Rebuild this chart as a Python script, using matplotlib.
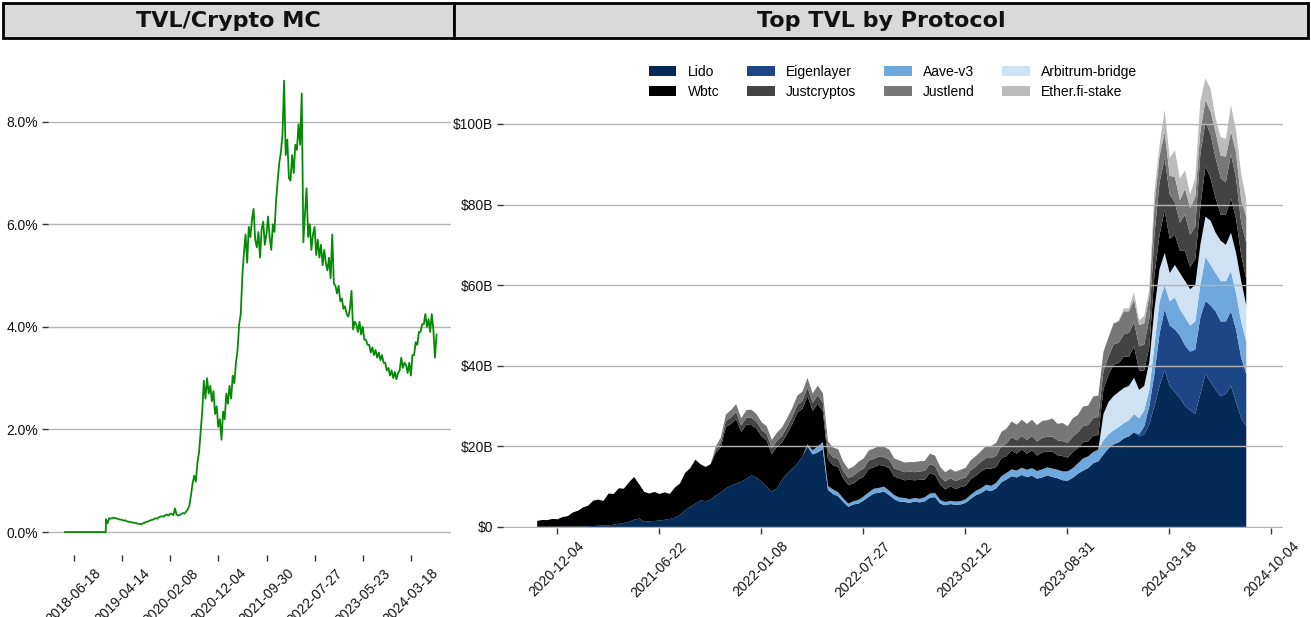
import matplotlib
matplotlib.use("Agg")
import matplotlib.pyplot as plt
from matplotlib.patches import Rectangle
from matplotlib.ticker import FuncFormatter, FixedLocator
import numpy as np
import pandas as pd

plt.rcParams['font.family'] = ['Liberation Sans', 'DejaVu Sans']

# ---------------- Left panel data: TVL / Crypto market cap (%) ----------------
tvl_flat_dates = ['2018-04-23', '2019-01-02']
tvl_flat_vals = [0.0, 0.0]
tvl_start = '2019-01-03'   # then one value every 10 days
tvl_ratio = [
    0.25, 0.17, 0.27, 0.26, 0.27, 0.28, 0.27, 0.26, 0.25, 0.24,
    0.24, 0.22, 0.23, 0.21, 0.20, 0.20, 0.19, 0.18, 0.18, 0.17,
    0.16, 0.16, 0.15, 0.17, 0.18, 0.20, 0.20, 0.22, 0.23, 0.24,
    0.25, 0.27, 0.26, 0.29, 0.30, 0.31, 0.30, 0.33, 0.34, 0.32,
    0.36, 0.35, 0.33, 0.46, 0.34, 0.32, 0.33, 0.35, 0.37, 0.36,
    0.40, 0.44, 0.52, 0.72, 0.95, 1.10, 0.98, 1.35, 1.55, 1.95,
    2.35, 2.95, 2.60, 3.00, 2.70, 2.85, 2.55, 2.75, 2.30, 2.45,
    2.05, 2.20, 1.80, 2.35, 2.20, 2.70, 2.50, 2.85, 2.60, 3.05,
    2.90, 3.30, 3.55, 4.05, 4.25, 5.00, 5.45, 5.80, 5.25, 5.95,
    5.75, 6.10, 6.30, 5.70, 5.55, 5.85, 5.35, 5.90, 6.05, 5.60,
    5.80, 6.15, 5.75, 5.50, 6.00, 5.85, 6.45, 6.85, 7.20, 7.40,
    7.75, 8.80, 7.35, 7.65, 6.90, 6.85, 7.35, 7.00, 7.55, 7.45,
    7.95, 7.55, 8.55, 5.65, 6.20, 6.70, 5.75, 6.00, 5.50, 5.80,
    5.95, 5.40, 5.70, 5.35, 5.60, 5.20, 5.50, 5.25, 5.10, 5.35,
    4.95, 5.80, 4.85, 4.80, 4.65, 4.80, 4.50, 4.55, 4.35, 4.40,
    4.25, 4.20, 4.35, 4.70, 3.95, 4.10, 4.05, 3.90, 4.10, 3.85,
    4.00, 3.75, 3.75, 3.65, 3.65, 3.50, 3.60, 3.45, 3.55, 3.40,
    3.50, 3.35, 3.45, 3.30, 3.30, 3.15, 3.20, 3.05, 3.15, 3.00,
    3.12, 2.98, 3.10, 3.15, 3.40, 3.20, 3.30, 3.25, 3.10, 3.30,
    3.05, 3.45, 3.45, 3.70, 3.65, 3.90, 3.90, 4.05, 4.05, 4.25,
    4.00, 4.15, 3.90, 4.25, 3.95, 3.40, 3.85,
]
left_ticks = ['2018-06-18', '2019-04-14', '2020-02-08', '2020-12-04',
              '2021-09-30', '2022-07-27', '2023-05-23', '2024-03-18']
left_yticks = [0, 2, 4, 6, 8]

# ---------------- Right panel data: Top TVL by protocol ($B) ----------------
tvl_protocol_start = '2020-10-26'   # one value every 10 days
protocols = ['Lido', 'Eigenlayer', 'Aave-v3', 'Arbitrum-bridge',
             'Wbtc', 'Justcryptos', 'Justlend', 'Ether.fi-stake']
lido = [
    0.05, 0.05, 0.05, 0.06, 0.07, 0.08, 0.1, 0.1, 0.12, 0.15, 0.2, 0.25, 0.3, 0.35, 0.4, 0.6, 0.8, 1.0, 1.3, 1.8,
    2.1, 1.3, 1.4, 1.5, 1.6, 1.8, 2.0, 2.3, 3.0, 4.2, 5.0, 5.8, 6.6, 6.4, 6.8, 7.8, 8.6, 9.6, 10.3, 10.8,
    11.2, 12.0, 12.8, 12.3, 11.2, 10.0, 8.8, 9.6, 11.8, 13.3, 14.5, 15.8, 17.5, 20.0, 18.0, 18.5, 19.3, 9.2, 8.2, 7.6,
    6.2, 5.0, 5.6, 5.8, 6.6, 7.5, 8.3, 8.5, 8.8, 7.9, 6.9, 6.3, 6.2, 6.0, 6.3, 6.1, 6.4, 7.3, 7.4, 5.8,
    5.4, 5.7, 5.5, 5.6, 6.0, 7.0, 7.9, 8.4, 9.2, 8.9, 9.6, 11.1, 11.8, 12.6, 12.3, 12.9, 12.4, 12.7, 12.0, 12.3,
    12.8, 12.4, 12.1, 11.6, 11.5, 12.2, 13.2, 14.0, 14.6, 15.8, 16.3, 18.0, 19.5, 20.5, 21.0, 22.0, 22.5, 23.5, 22.5, 23.0,
    25.5, 30.0, 35.0, 39.0, 35.0, 33.5, 32.0, 30.0, 29.0, 28.0, 33.0, 38.0, 36.0, 34.0, 32.5, 33.0, 35.0, 31.0, 27.0, 25.0,
]
wbtc = [
    1.45, 1.7, 1.65, 1.95, 1.85, 2.4, 2.6, 3.5, 3.9, 4.7, 5.1, 6.3, 6.5, 6.1, 7.9, 7.6, 8.8, 8.5, 9.8, 10.6,
    8.5, 7.4, 6.9, 7.2, 6.6, 6.8, 6.2, 7.5, 7.8, 9.2, 9.6, 10.9, 9.0, 8.5, 8.8, 10.6, 11.2, 15.2, 15.3, 16.0,
    12.4, 13.4, 12.5, 12.1, 11.3, 11.4, 9.3, 10.3, 9.2, 9.8, 11.0, 12.6, 11.8, 12.0, 9.8, 10.6, 7.6, 6.6, 6.0, 6.3,
    4.9, 4.6, 4.4, 5.1, 4.9, 5.8, 5.3, 5.7, 5.2, 5.6, 4.6, 4.8, 4.4, 4.8, 4.4, 4.7, 4.4, 5.1, 4.5, 3.8,
    3.1, 3.6, 3.1, 3.5, 3.3, 3.9, 3.7, 4.2, 4.0, 4.3, 3.9, 4.5, 4.2, 4.7, 4.2, 4.5, 4.0, 4.4, 3.8, 4.2,
    3.9, 4.2, 3.6, 3.8, 3.4, 4.0, 3.8, 4.0, 3.8, 4.1, 3.6, 6.2, 6.8, 7.8, 7.2, 7.8, 7.2, 7.8, 4.8, 3.8,
    3.8, 8.5, 8.5, 10.5, 8.5, 7.5, 5.5, 7.5, 5.5, 6.5, 9.5, 12.5, 10.5, 8.5, 6.5, 7.5, 8.5, 8.5, 6.5, 6.5,
]
# series that start later: (index of first value on the 10-day grid, values)
aave_v3_from = 53
aave_v3 = [
    0.5, 1.0, 1.5, 1.8, 1.0, 1.1, 1.0,
    0.9, 0.8, 0.8, 0.9, 1.0, 1.1, 1.2, 1.2, 1.2, 1.1, 1.0, 1.0, 1.0, 0.9, 0.9, 0.9, 1.0, 1.0, 1.0, 0.9,
    0.8, 0.8, 0.8, 0.8, 0.9, 1.0, 1.1, 1.2, 1.3, 1.3, 1.4, 1.5, 1.6, 1.7, 1.7, 1.8, 1.8, 1.9, 1.9, 2.0,
    2.0, 2.1, 2.1, 2.2, 2.3, 2.4, 2.6, 3.0, 2.9, 2.8, 2.9, 3.5, 3.5, 3.5, 3.8, 3.8, 4.0, 4.5, 4.0, 4.0,
    4.0, 7.0, 8.0, 6.0, 6.0, 8.0, 6.5, 7.0, 6.5, 7.0, 8.0, 11.0, 10.0, 9.5, 10.0, 10.0, 10.0, 9.0, 9.0, 8.0,
]
justcryptos_from = 35
justcryptos = [
    0.8, 1.2, 1.5, 1.6, 1.7,
    1.6, 1.7, 1.8, 1.7, 1.6, 1.6, 1.5, 1.5, 1.6, 1.7, 1.8, 1.9, 2.0, 2.1, 2.0, 2.1, 2.1, 2.0, 2.0, 2.0,
    1.9, 1.8, 1.9, 2.0, 2.0, 2.1, 2.1, 2.1, 2.1, 2.1, 2.0, 2.0, 2.0, 2.0, 2.0, 2.1, 2.1, 2.2, 2.2, 2.0,
    2.0, 2.0, 2.0, 2.0, 2.1, 2.2, 2.3, 2.4, 2.6, 2.6, 2.8, 3.0, 3.1, 3.3, 3.3, 3.4, 3.4, 3.5, 3.5, 3.6,
    3.7, 3.7, 3.7, 3.7, 3.7, 3.8, 3.9, 4.0, 4.0, 4.3, 4.5, 4.5, 4.5, 5.0, 5.0, 5.5, 6.0, 6.0, 6.0, 6.5,
    7.0, 10.0, 13.0, 13.0, 11.0, 8.0, 7.0, 9.0, 8.0, 8.0, 13.0, 11.0, 11.0, 10.0, 9.0, 8.0, 11.0, 10.0, 8.0, 9.0,
]
justlend_from = 35
justlend = [
    0.8, 1.2, 1.6, 1.8, 2.0,
    1.8, 1.9, 2.0, 1.9, 1.9, 2.0, 2.0, 2.0, 2.1, 2.2, 2.2, 2.3, 2.3, 2.4, 2.3, 2.4, 2.4, 2.5, 2.4, 2.4,
    2.3, 2.2, 2.3, 2.4, 2.5, 2.5, 2.6, 2.6, 2.6, 2.5, 2.5, 2.4, 2.4, 2.4, 2.5, 2.5, 2.5, 2.6, 2.6, 2.4,
    2.3, 2.3, 2.3, 2.3, 2.4, 2.5, 2.6, 2.6, 3.0, 3.0, 3.2, 3.5, 3.7, 3.9, 3.9, 4.0, 4.0, 4.1, 4.1, 4.2,
    4.1, 4.5, 4.1, 4.5, 4.1, 4.6, 4.3, 4.9, 4.8, 5.4, 5.3, 4.7, 4.8, 5.2, 5.3, 5.7, 5.3, 5.7, 5.3, 5.2,
    5.6, 7.4, 6.6, 6.4, 4.6, 6.4, 5.6, 6.4, 6.6, 7.4, 5.6, 5.4, 5.6, 6.4, 5.6, 6.4, 5.6, 6.4, 5.6, 6.4,
]
arbitrum_bridge_from = 111
arbitrum_bridge = [
    6.5, 8.0, 8.5, 8.7, 8.7, 8.5, 9.0, 7.0, 6.0, 7.0, 9.0, 8.0, 8.0, 7.0, 8.0,
    9.0, 9.0, 9.0, 9.0, 10.0, 10.0, 11.0, 10.0, 10.0, 9.0, 9.5, 10.0, 10.0, 9.0,
]
eigenlayer_from = 118
eigenlayer = [
    0.5, 2.0, 4.5, 8.0, 13.0, 15.0, 15.0, 15.5, 15.5, 15.0, 14.5,
    16.0, 19.0, 18.0, 19.0, 19.5, 18.5, 18.0, 18.5, 18.0, 15.0, 13.0,
]
etherfi_from = 114
etherfi_stake = [
    0.3, 0.7, 0.8, 1.8, 1.2, 1.9, 1.6, 3.4, 2.6, 5.6, 4.4, 6.6, 5.4,
    4.6, 3.4, 4.6, 7.6, 5.4, 5.6, 3.4, 4.6, 4.4, 6.6, 5.4, 6.6, 4.4,
]
right_ticks = ['2020-12-04', '2021-06-22', '2022-01-08', '2022-07-27',
               '2023-02-12', '2023-08-31', '2024-03-18', '2024-10-04']
right_yticks = [0, 20, 40, 60, 80, 100]

colors = {
    'Lido': '#042b57', 'Eigenlayer': '#1d4686', 'Aave-v3': '#6fa8dc',
    'Arbitrum-bridge': '#cfe2f3', 'Wbtc': '#000000', 'Justcryptos': '#434343',
    'Justlend': '#777777', 'Ether.fi-stake': '#bcbcbc',
}

# ---------------- build series ----------------
n = len(lido)
pdates = pd.date_range(tvl_protocol_start, periods=n, freq='10D')


def pad(vals, start):
    out = np.zeros(n)
    out[start:start + len(vals)] = vals
    return out


series = {
    'Lido': np.array(lido),
    'Eigenlayer': pad(eigenlayer, eigenlayer_from),
    'Aave-v3': pad(aave_v3, aave_v3_from),
    'Arbitrum-bridge': pad(arbitrum_bridge, arbitrum_bridge_from),
    'Wbtc': np.array(wbtc),
    'Justcryptos': pad(justcryptos, justcryptos_from),
    'Justlend': pad(justlend, justlend_from),
    'Ether.fi-stake': pad(etherfi_stake, etherfi_from),
}

ldates = list(pd.to_datetime(tvl_flat_dates)) + list(
    pd.date_range(tvl_start, periods=len(tvl_ratio), freq='10D'))
lvals = tvl_flat_vals + tvl_ratio

# ---------------- figure ----------------
W, H = 1311, 617
fig = plt.figure(figsize=(W / 100, H / 100), dpi=100)


def fx(px):
    return px / W


def fy(py):
    return 1 - py / H


# header boxes
for (x0, x1, title) in [(3, 454, 'TVL/Crypto MC'), (454, 1308, 'Top TVL by Protocol')]:
    fig.patches.append(Rectangle((fx(x0), fy(38)), fx(x1 - x0), (38 - 3) / H,
                                 transform=fig.transFigure, facecolor='#d9d9d9',
                                 edgecolor='black', linewidth=2, zorder=0))
    fig.text(fx((x0 + x1) / 2), fy(21), title, ha='center', va='center',
             fontsize=16, fontweight='bold', family=['DejaVu Sans'], color='#111111')

# left axes
ax1 = fig.add_axes([fx(48), fy(555), fx(451 - 48), (555 - 55) / H])
ax1.plot(ldates, lvals, color='#058a05', lw=1.3, zorder=3)
ax1.set_xlim(pd.Timestamp('2018-01-07'), pd.Timestamp('2024-11-22'))
ax1.set_ylim(-0.448, 9.30)
ax1.yaxis.set_major_locator(FixedLocator(left_yticks))
ax1.yaxis.set_major_formatter(FuncFormatter(lambda v, p: f'{v:.1f}%'))
ax1.set_xticks(pd.to_datetime(left_ticks))
ax1.set_xticklabels(left_ticks, rotation=45, ha='center')

# right axes
ax2 = fig.add_axes([fx(503), fy(528), fx(1283 - 503), (528 - 55) / H])
ax2.stackplot(pdates, [series[p] for p in protocols],
              colors=[colors[p] for p in protocols], labels=protocols,
              linewidth=0, zorder=1)
ax2.set_xlim(pd.Timestamp('2020-08-20'), pd.Timestamp('2024-10-27'))
ax2.set_ylim(-0.25, 117.1)
ax2.yaxis.set_major_locator(FixedLocator(right_yticks))
ax2.yaxis.set_major_formatter(FuncFormatter(lambda v, p: '$0' if v == 0 else f'${v:.0f}B'))
ax2.set_xticks(pd.to_datetime(right_ticks))
ax2.set_xticklabels(right_ticks, rotation=45, ha='center')

# legend: rows Lido/Eigenlayer/Aave-v3/Arbitrum-bridge ; Wbtc/Justcryptos/Justlend/Ether.fi-stake
handles, labels = ax2.get_legend_handles_labels()
order = ['Lido', 'Wbtc', 'Eigenlayer', 'Justcryptos', 'Aave-v3', 'Justlend',
         'Arbitrum-bridge', 'Ether.fi-stake']
hmap = dict(zip(labels, handles))
ax2.legend([hmap[o] for o in order], order, ncol=4, loc='upper center',
           bbox_to_anchor=(0.5, 1.0), frameon=False, fontsize=10,
           handlelength=2.0, handleheight=0.75, handletextpad=0.8,
           columnspacing=2.0, labelspacing=0.45, borderaxespad=0.3)

for ax in (ax1, ax2):
    for s in ax.spines.values():
        s.set_visible(False)
    ax.yaxis.grid(True, color='#b4b4b4', lw=1.0)
    ax.xaxis.grid(False)
    ax.tick_params(axis='both', length=4, width=1, color='#333333',
                   labelsize=10, labelcolor='#111111')
    ax.tick_params(axis='y', pad=3)
    ax.tick_params(axis='x', pad=4)
ax1.set_axisbelow(True)
ax2.set_axisbelow(False)

fig.savefig('out.png', dpi=100)
